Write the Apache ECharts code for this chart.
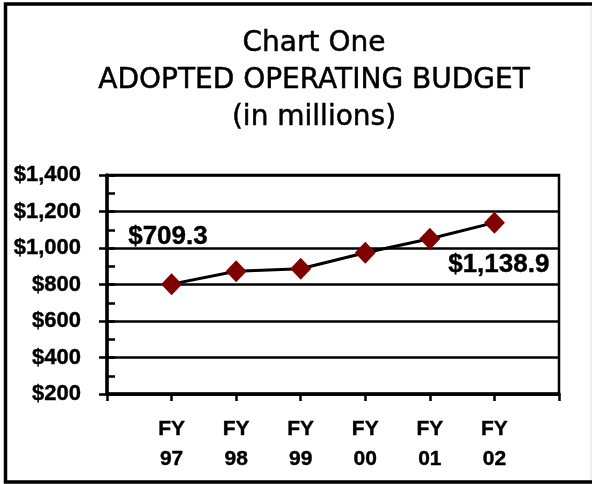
<!DOCTYPE html>
<html>
<head>
<meta charset="utf-8">
<script src="https://cdn.jsdelivr.net/npm/echarts@6/dist/echarts.min.js"></script>
<style>
  html, body { margin: 0; padding: 0; background: #fff; }
  #chart { width: 592px; height: 484px; }
</style>
</head>
<body>
<div id="chart"></div>
<script>
// fiscal years and adopted budget (millions)
const categories = ['FY\n97', 'FY\n98', 'FY\n99', 'FY\n00', 'FY\n01', 'FY\n02'];
const budget = [802, 873, 886, 974, 1051, 1139];
const titleLines = ['Chart One', 'ADOPTED OPERATING BUDGET', '(in millions)'];
const notes = ['$709.3', '$1,138.9'];

// one empty slot on each side so the points sit on inner ticks
const axisCats = [''].concat(categories, ['']);
const axisVals = [null].concat(budget, [null]);

const fmt = v => '$' + v.toLocaleString('en-US');
const bold = { color: '#000', fontFamily: 'Liberation Sans', fontWeight: 'bold',
  textBorderColor: '#000', textBorderWidth: 0.4 };

const chart = echarts.init(document.getElementById('chart'));
chart.setOption({
  animation: false,
  backgroundColor: '#fff',
  title: {
    text: titleLines.join('\n'),
    left: 309,
    textAlign: 'center',
    top: 20,
    textStyle: {
      fontFamily: 'DejaVu Sans',
      fontWeight: 'normal',
      fontSize: 28,
      lineHeight: 37,
      color: '#000',
      textBorderColor: '#000',
      textBorderWidth: 0.5
    }
  },
  grid: {
    left: 107, right: 33, top: 175, bottom: 90,
    show: true, borderColor: '#000', borderWidth: 2.5
  },
  xAxis: {
    type: 'category',
    data: axisCats,
    boundaryGap: false,
    axisLine: { lineStyle: { color: '#000', width: 3.5 } },
    axisTick: { show: true, interval: 0, length: 7, lineStyle: { color: '#000', width: 2.5 } },
    axisLabel: Object.assign({ interval: 0, margin: 20, fontSize: 21, lineHeight: 30 }, bold),
    splitLine: { show: false }
  },
  yAxis: [{
    type: 'value',
    min: 200, max: 1400, interval: 200,
    axisLine: { show: true, lineStyle: { color: '#000', width: 3.5 } },
    axisTick: { show: true, length: 8, lineStyle: { color: '#000', width: 2.5 } },
    axisLabel: Object.assign({ margin: 26, fontSize: 22, formatter: fmt }, bold),
    splitLine: { lineStyle: { color: '#000', width: 2.5 } }
  }, {
    // minor ticks, pointing into the plot
    type: 'value',
    position: 'left',
    min: 200, max: 1400, interval: 100,
    axisLine: { show: false },
    axisTick: { show: true, inside: true, length: 8, lineStyle: { color: '#000', width: 2.5 } },
    axisLabel: { show: false },
    splitLine: { show: false }
  }],
  series: [{
    type: 'line',
    data: axisVals,
    symbol: 'diamond',
    symbolSize: [21, 22],
    lineStyle: { color: '#000', width: 3 },
    itemStyle: { color: '#800000' },
    z: 5
  }],
  graphic: [
    {
      type: 'rect',
      shape: { x: 5.5, y: 4, width: 640, height: 478 },
      style: { fill: null, stroke: '#000', lineWidth: 3.5 },
      silent: true
    },
    {
      type: 'line',
      shape: { x1: 591, y1: 6, x2: 591, y2: 480 },
      style: { stroke: '#ddd', lineWidth: 1 }
    },
    {
      type: 'text', left: 128, top: 224,
      style: { text: notes[0], fill: '#000', font: 'bold 26px "Liberation Sans"', stroke: '#000', lineWidth: 0.4 }
    },
    {
      type: 'text', left: 448, top: 252,
      style: { text: notes[1], fill: '#000', font: 'bold 26px "Liberation Sans"', stroke: '#000', lineWidth: 0.4 }
    }
  ]
});
</script>
</body>
</html>
